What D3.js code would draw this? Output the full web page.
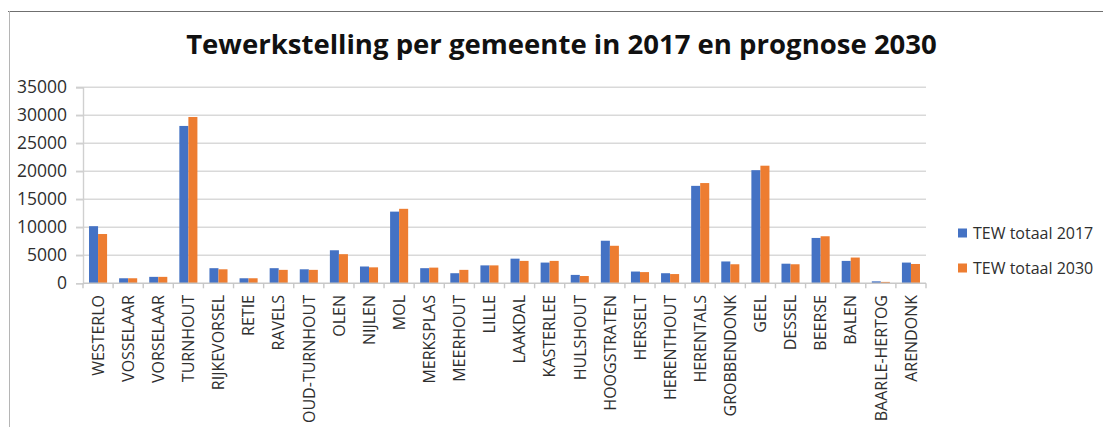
<!DOCTYPE html>
<html>
<head>
<meta charset="utf-8">
<script src="https://cdn.jsdelivr.net/npm/d3@7"></script>
<style>
  html, body { margin: 0; padding: 0; background: #fff; }
  svg { display: block; font-family: "Open Sans", sans-serif; }
</style>
</head>
<body>
<svg id="chart" width="1103" height="427"></svg>
<script>
// Tewerkstelling (jobs) per municipality, 2017 and forecast 2030
const gemeenten = ["WESTERLO","VOSSELAAR","VORSELAAR","TURNHOUT","RIJKEVORSEL","RETIE","RAVELS",
  "OUD-TURNHOUT","OLEN","NIJLEN","MOL","MERKSPLAS","MEERHOUT","LILLE","LAAKDAL","KASTERLEE",
  "HULSHOUT","HOOGSTRATEN","HERSELT","HERENTHOUT","HERENTALS","GROBBENDONK","GEEL","DESSEL",
  "BEERSE","BALEN","BAARLE-HERTOG","ARENDONK"];
const tew2017 = [10200,900,1150,28100,2700,900,2700,2500,5900,3000,12800,2700,1800,3200,4400,3700,
  1500,7600,2100,1800,17400,3900,20200,3500,8100,4000,350,3700];
const tew2030 = [8800,900,1150,29700,2500,900,2400,2400,5200,2850,13300,2800,2400,3200,4000,4000,
  1300,6700,2000,1650,17900,3400,21000,3400,8400,4600,250,3450];
const seriesNames = ["TEW totaal 2017","TEW totaal 2030"];
const seriesColors = ["#4472C4","#ED7D31"];
const yTicks = [0,5000,10000,15000,20000,25000,30000,35000];
const titleText = "Tewerkstelling per gemeente in 2017 en prognose 2030";

const textColor = "#2e2e2e";
const svg = d3.select("#chart");
const plot = { left: 83, right: 926, top: 87.3, bottom: 283.3 };

// outer frame
svg.append("line").attr("x1", 8).attr("x2", 1103).attr("y1", 11.5).attr("y2", 11.5)
  .attr("stroke", "#6f6f6f").attr("stroke-width", 1.2);
svg.append("line").attr("x1", 9.5).attr("x2", 9.5).attr("y1", 11).attr("y2", 427)
  .attr("stroke", "#b5b5b5").attr("stroke-width", 1);

// title, fitted to its width
const title = svg.append("text").attr("x", 561.5).attr("y", 53.5)
  .attr("text-anchor", "middle").attr("font-weight", 700).attr("fill", "#111")
  .attr("font-size", 24).text(titleText);
const tw = title.node().getComputedTextLength();
title.attr("font-size", 24 * 751 / tw);

const x = d3.scaleBand().domain(gemeenten).range([plot.left, plot.right])
  .paddingInner(0.4).paddingOuter(0.2);
const xs = d3.scaleBand().domain([0, 1]).range([0, x.bandwidth()]).padding(0);
const y = d3.scaleLinear().domain([0, 35000]).range([plot.bottom, plot.top]);

// horizontal gridlines
svg.append("g").selectAll("line").data(yTicks.filter(d => d > 0)).join("line")
  .attr("x1", plot.left - 7).attr("x2", plot.right)
  .attr("y1", d => y(d)).attr("y2", d => y(d))
  .attr("stroke", "#d9d9d9").attr("stroke-width", 1.6);

// y axis
const yAxis = svg.append("g").attr("transform", `translate(${plot.left},0)`)
  .call(d3.axisLeft(y).tickValues(yTicks).tickFormat(d3.format("d")).tickSize(7).tickPadding(9));
yAxis.select(".domain").attr("stroke", "#d0d0d0").attr("stroke-width", 1.4);
yAxis.selectAll(".tick line").attr("stroke", "#d0d0d0").attr("stroke-width", 1.4);
yAxis.selectAll(".tick text").attr("font-size", 17.5).attr("fill", textColor)
  .attr("font-family", "Open Sans, sans-serif");

// bars
const rows = gemeenten.map((g, i) => ({ g, v: [tew2017[i], tew2030[i]] }));
svg.append("g").selectAll("g").data(rows).join("g")
  .attr("transform", d => `translate(${x(d.g)},0)`)
  .selectAll("rect").data(d => d.v.map((v, k) => ({ v, k }))).join("rect")
  .attr("x", d => xs(d.k)).attr("width", xs.bandwidth())
  .attr("y", d => y(d.v)).attr("height", d => y(0) - y(d.v))
  .attr("fill", d => seriesColors[d.k]);

// category axis: ticks at category boundaries
const bounds = d3.range(gemeenten.length + 1).map(i => plot.left + i * (plot.right - plot.left) / gemeenten.length);
svg.append("line").attr("x1", plot.left).attr("x2", plot.right)
  .attr("y1", y(0)).attr("y2", y(0)).attr("stroke", "#c8c8c8").attr("stroke-width", 1.6);
svg.append("g").selectAll("line").data(bounds).join("line")
  .attr("x1", d => d).attr("x2", d => d).attr("y1", y(0)).attr("y2", y(0) + 5)
  .attr("stroke", "#c8c8c8").attr("stroke-width", 1.4);

svg.append("g").selectAll("text").data(gemeenten).join("text")
  .attr("transform", d => `translate(${x(d) + x.bandwidth() / 2},295) rotate(-90)`)
  .attr("text-anchor", "end").attr("dy", "0.36em")
  .attr("font-size", 16).attr("fill", textColor).text(d => d);

// legend
const legend = svg.append("g").selectAll("g").data(seriesNames).join("g")
  .attr("transform", (d, i) => `translate(958,${233 + i * 35})`);
legend.append("rect").attr("x", 0).attr("y", -4.5).attr("width", 9).attr("height", 9)
  .attr("fill", (d, i) => seriesColors[i]);
legend.append("text").attr("x", 15).attr("dy", "0.36em").attr("font-size", 16)
  .attr("fill", textColor).text(d => d);
</script>
</body>
</html>
